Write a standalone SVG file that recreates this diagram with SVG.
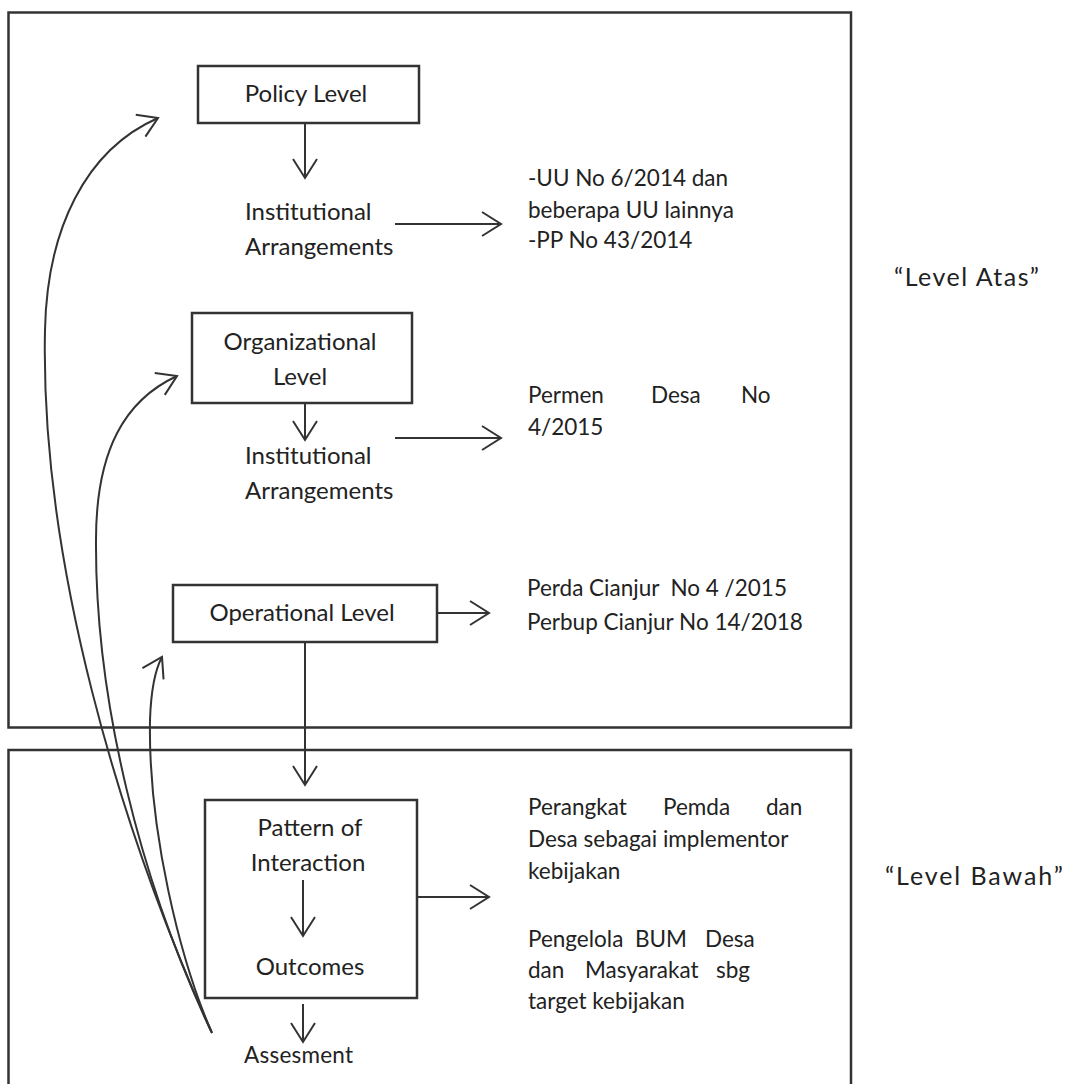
<svg xmlns="http://www.w3.org/2000/svg" width="1068" height="1084" viewBox="0 0 1068 1084">
<defs>
<style>
text{font-family:Lato,"Liberation Sans",sans-serif;font-size:24px;fill:#222}
.c{text-anchor:middle}
.r{font-size:22.5px}
.pre{white-space:pre}
.q{font-size:25px}
.box{fill:#fff;stroke:#333;stroke-width:2.5}
.frame{fill:none;stroke:#333;stroke-width:2.5}
.ln{fill:none;stroke:#333;stroke-width:2;marker-end:url(#ah)}
</style>
<marker id="ah" markerUnits="userSpaceOnUse" markerWidth="40" markerHeight="40" refX="0" refY="0" orient="auto" overflow="visible">
<path d="M-19,-12 L0,0 L-19,12" fill="none" stroke="#333" stroke-width="2"/>
</marker>
</defs>
<rect width="1068" height="1084" fill="#fff"/>
<g id="frames">
<rect class="frame" x="8.5" y="12.5" width="842.5" height="715"/>
<path class="frame" d="M8.5,1100 V750 H851 V1100"/>
</g>
<g id="policy-level">
<rect class="box" x="198" y="66" width="221" height="57"/>
<text class="c" x="306" y="102">Policy Level</text>
</g>
<g id="institutional-1">
<text x="245" y="220">Institutional</text>
<text x="245" y="255">Arrangements</text>
</g>
<g id="uu-text">
<text class="r" x="528" y="186">-UU No 6/2014 dan</text>
<text class="r" x="528" y="218">beberapa UU lainnya</text>
<text class="r" x="528" y="248">-PP No 43/2014</text>
</g>
<g id="level-atas">
<text class="q" x="894" y="286" textLength="145">“Level Atas”</text>
</g>
<g id="organizational-level">
<rect class="box" x="192" y="313" width="220" height="90"/>
<text class="c" x="300" y="350">Organizational</text>
<text class="c" x="300" y="385">Level</text>
</g>
<g id="institutional-2">
<text x="245" y="464">Institutional</text>
<text x="245" y="499">Arrangements</text>
</g>
<g id="permen-text">
<text class="r" y="403"><tspan x="528">Permen</tspan><tspan x="651">Desa</tspan><tspan x="741">No</tspan></text>
<text class="r" x="528" y="435">4/2015</text>
</g>
<g id="operational-level">
<rect class="box" x="173" y="585" width="264" height="57"/>
<text class="c" x="302" y="621">Operational Level</text>
</g>
<g id="perda-text">
<text class="r pre" x="527" y="596">Perda Cianjur  No 4 /2015</text>
<text class="r" x="527" y="630">Perbup Cianjur No 14/2018</text>
</g>
<g id="pattern-of-interaction">
<rect class="box" x="205" y="800" width="212" height="198"/>
<text class="c" x="310" y="836">Pattern of</text>
<text class="c" x="308" y="871">Interaction</text>
<text class="c" x="310" y="975">Outcomes</text>
</g>
<g id="assesment">
<text x="244" y="1063" style="font-size:22.5px" textLength="109">Assesment</text>
</g>
<g id="implementor-text">
<text class="r" y="815"><tspan x="528">Perangkat</tspan><tspan x="663">Pemda</tspan><tspan x="766">dan</tspan></text>
<text class="r" x="528" y="847">Desa sebagai implementor</text>
<text class="r" x="528" y="879">kebijakan</text>
<text class="r" y="947"><tspan x="528">Pengelola</tspan><tspan x="635">BUM</tspan><tspan x="705">Desa</tspan></text>
<text class="r" y="978"><tspan x="528">dan</tspan><tspan x="585">Masyarakat</tspan><tspan x="716">sbg</tspan></text>
<text class="r" x="528" y="1009">target kebijakan</text>
</g>
<g id="level-bawah">
<text class="q" x="885" y="885" textLength="178">“Level Bawah”</text>
</g>
<g id="connectors">
<path class="ln" d="M305,123 L305,178"/>
<path class="ln" d="M395,224 L501,224"/>
<path class="ln" d="M305,403 L305,440"/>
<path class="ln" d="M395,438 L501,438"/>
<path class="ln" d="M437,613 L489,613"/>
<path class="ln" d="M305,642 L305,785"/>
<path class="ln" d="M303,880 L303,936"/>
<path class="ln" d="M417,897 L489,897"/>
<path class="ln" d="M303,1004 L303,1042"/>
<path class="ln" d="M212,1033 C120,830 40,560 45,330 C47,230 85,150 158,118"/>
<path class="ln" d="M211,1031 C140,880 95,700 96,540 C96,450 125,400 177,376"/>
<path class="ln" d="M212,1033 C180,960 148,830 150,720 C151,690 155,670 162,657"/>
</g>
</svg>
